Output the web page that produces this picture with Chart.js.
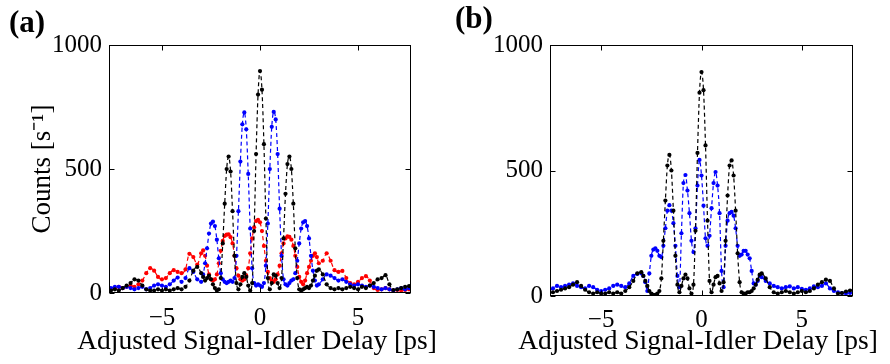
<!DOCTYPE html>
<html>
<head>
<meta charset="utf-8">
<script src="https://cdn.jsdelivr.net/npm/chart.js@4.4.1/dist/chart.umd.min.js"></script>
<style>
  html, body { margin: 0; padding: 0; background: #fff; }
  body { width: 890px; height: 364px; position: relative; overflow: hidden; font-family: "Liberation Serif", serif; }
  .panel { position: absolute; top: 0; width: 445px; height: 364px; }
  .tag { position: absolute; font-size: 31px; font-weight: bold; line-height: 1; color: #000; }
  .xlab { position: absolute; top: 324px; width: 500px; text-align: center; font-size: 27.5px; line-height: 32px; color: #000; white-space: nowrap; }
</style>
</head>
<body>
<div class="panel" style="left:0"><canvas id="chartA"></canvas></div>
<div class="panel" style="left:445px"><canvas id="chartB"></canvas></div>
<div class="tag" style="left:9px;top:6px">(a)</div>
<div class="tag" style="left:455px;top:2px">(b)</div>
<div class="xlab" style="left:7px">Adjusted Signal-Idler Delay [ps]</div>
<div class="xlab" style="left:448px">Adjusted Signal-Idler Delay [ps]</div>
<script>
// delay grid [ps]: 0.2 steps outside |t|<=3, 0.1 steps inside
const delays = [
  -7.6,-7.4,-7.2,-7.0,-6.8,-6.6,-6.4,-6.2,-6.0,-5.8,-5.6,-5.4,-5.2,-5.0,-4.8,-4.6,-4.4,-4.2,-4.0,-3.8,-3.6,-3.4,-3.2,
  -3.0,-2.9,-2.8,-2.7,-2.6,-2.5,-2.4,-2.3,-2.2,-2.1,
  -2.0,-1.9,-1.8,-1.7,-1.6,-1.5,-1.4,-1.3,-1.2,-1.1,
  -1.0,-0.9,-0.8,-0.7,-0.6,-0.5,-0.4,-0.3,-0.2,-0.1,
  0.0,0.1,0.2,0.3,0.4,0.5,0.6,0.7,0.8,0.9,
  1.0,1.1,1.2,1.3,1.4,1.5,1.6,1.7,1.8,1.9,
  2.0,2.1,2.2,2.3,2.4,2.5,2.6,2.7,2.8,2.9,3.0,
  3.2,3.4,3.6,3.8,4.0,4.2,4.4,4.6,4.8,5.0,5.2,5.4,5.6,5.8,6.0,6.2,6.4,6.6,6.8,7.0,7.2,7.4,7.6
];

// panel (a)
const aBlack = [
  10,15,10,20,30,40,55,50,30,15,10,10,15,10,15,10,15,20,15,25,50,90,105,
  80,65,50,60,70,55,35,20,10,15,
  60,200,360,500,550,490,330,150,40,15,
  35,65,80,65,30,10,40,250,560,800,
  895,820,600,300,60,15,40,75,70,40,
  20,60,220,400,520,550,500,360,180,60,
  15,10,15,20,25,20,30,50,70,90,95,
  75,35,20,15,20,15,20,25,20,15,25,20,30,40,55,60,72,35,12,15,20,25,28
];
const aBlue = [
  20,25,25,20,25,20,15,20,25,15,20,30,35,30,25,35,50,62,45,60,100,85,55,
  45,75,120,180,240,280,288,270,215,140,
  80,55,45,40,45,50,45,60,150,330,
  530,680,728,660,480,260,100,40,30,35,
  30,25,40,110,280,500,670,730,700,560,
  340,150,55,35,30,40,50,55,80,130,
  200,260,285,290,270,220,150,90,50,30,35,
  55,75,70,60,50,55,45,35,30,35,30,25,30,25,20,15,20,15,10,15,20,15,20
];
const aRed = [
  15,20,25,20,25,30,25,35,50,80,100,90,65,55,60,80,92,85,80,95,158,145,115,
  160,172,150,110,75,55,50,55,75,120,
  170,210,230,235,236,225,200,150,100,70,
  55,50,55,70,100,160,220,265,290,295,
  285,250,190,130,85,60,50,45,55,75,
  110,160,200,220,228,226,215,190,150,105,
  65,45,35,50,80,105,130,150,160,145,120,
  130,160,130,92,85,89,60,40,35,45,60,68,50,20,12,15,20,15,10,12,10,12,15
];

// panel (b)
const bBlack = [
  10,15,20,25,30,35,45,55,40,25,15,10,15,10,10,15,10,15,10,20,35,60,90,
  95,80,60,40,20,10,5,5,10,20,
  70,220,380,520,562,500,340,160,45,15,
  40,70,85,70,30,10,45,260,570,810,
  892,820,600,300,60,15,45,75,80,50,
  20,55,220,400,520,540,480,340,170,55,
  15,10,10,15,15,20,30,45,65,85,90,
  70,35,15,10,15,20,15,10,15,20,15,20,30,45,55,65,60,30,10,12,18,22,28
];
const bBlue = [
  20,30,40,35,40,45,50,40,35,30,40,35,25,20,25,30,40,45,40,35,50,80,88,
  90,80,55,20,90,160,185,190,180,160,
  155,200,270,340,362,340,290,200,80,35,
  250,450,482,420,330,220,175,270,440,542,
  480,360,230,200,240,350,450,494,440,330,
  100,35,200,300,330,335,320,270,200,160,
  165,180,180,165,150,100,50,45,60,80,75,
  60,50,40,35,30,35,38,30,35,28,25,30,38,35,40,50,30,20,15,12,10,12,15
];

const xTicks = [-5, 0, 5];
const yTicks = [0, 500, 1000];

const FONT = "'Liberation Serif', 'Times New Roman', serif";

function fmt(v){ return v < 0 ? "\u2212" + (-v) : String(v); }

function series(vals, color){
  return {
    data: delays.map((d, i) => ({x: d, y: vals[i]})),
    borderColor: color,
    backgroundColor: color,
    borderWidth: 1.2,
    borderDash: [4, 3],
    pointRadius: 2.1,
    pointBorderWidth: 0,
    pointBackgroundColor: color,
    cubicInterpolationMode: "monotone",
    fill: false
  };
}

// box + inward ticks on all four sides
const frame = {
  id: "frame",
  afterDraw(chart){
    const {ctx, chartArea: a, scales: {x, y}} = chart;
    const L = Math.round(a.left) + 0.5, R = Math.round(a.right) - 0.5;
    const T = Math.round(a.top) + 0.5, B = Math.round(a.bottom) - 0.5;
    ctx.save();
    ctx.strokeStyle = "#000";
    ctx.lineWidth = 1;
    ctx.strokeRect(L, T, R - L, B - T);
    ctx.beginPath();
    const len = 5;
    for(const v of xTicks){
      const px = Math.round(x.getPixelForValue(v)) + 0.5;
      ctx.moveTo(px, B); ctx.lineTo(px, B - len);
      ctx.moveTo(px, T); ctx.lineTo(px, T + len);
    }
    for(const v of yTicks){
      const py = Math.round(y.getPixelForValue(v)) + 0.5;
      ctx.moveTo(L, py); ctx.lineTo(L + len, py);
      ctx.moveTo(R, py); ctx.lineTo(R - len, py);
    }
    ctx.stroke();
    ctx.restore();
  }
};

function makeChart(id, datasets, cfg){
  return new Chart(document.getElementById(id), {
    type: "line",
    data: {datasets},
    plugins: [frame],
    options: {
      responsive: true,
      maintainAspectRatio: false,
      animation: false,
      layout: {padding: {top: 45, right: cfg.right, left: 0, bottom: 0}},
      plugins: {legend: {display: false}, tooltip: {enabled: false}},
      scales: {
        x: {
          type: "linear", min: cfg.xmin, max: cfg.xmax,
          grid: {display: false, drawTicks: false},
          border: {display: false},
          afterBuildTicks: s => { s.ticks = xTicks.map(v => ({value: v})); },
          afterFit: s => { s.height = cfg.xh; },
          ticks: {color: "#000", font: {family: FONT, size: 25}, padding: cfg.xpad, maxRotation: 0, autoSkip: false, callback: v => fmt(v)}
        },
        y: {
          min: 0, max: 1000,
          grid: {display: false, drawTicks: false},
          border: {display: false},
          afterBuildTicks: s => { s.ticks = yTicks.map(v => ({value: v})); },
          afterFit: s => { s.width = cfg.yw; },
          ticks: {color: "#000", font: {family: FONT, size: 25}, padding: 7, callback: v => fmt(v)},
          title: {display: cfg.ytitle, text: "Counts [s\u207B\u00B9]", color: "#000",
                  font: {family: FONT, size: 27}, padding: {top: 26.5, bottom: 0}}
        }
      }
    }
  });
}

makeChart("chartA", [series(aBlack, "#000000"), series(aBlue, "#0000ff"), series(aRed, "#ff0000")],
  {xmin: -7.7, xmax: 7.7, right: 34, yw: 109, xh: 71, xpad: 10, ytitle: true});
makeChart("chartB", [series(bBlack, "#000000"), series(bBlue, "#0000ff")],
  {xmin: -7.55, xmax: 7.55, right: 37, yw: 105, xh: 68, xpad: 9, ytitle: false});
</script>
</body>
</html>
